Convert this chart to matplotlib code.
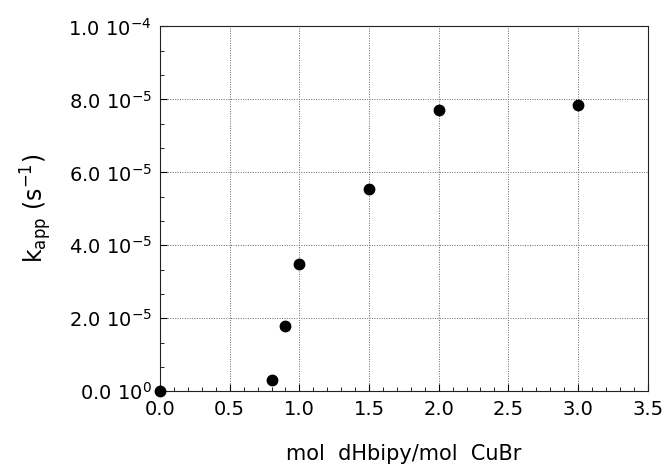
import numpy as np
import matplotlib
matplotlib.use('Agg')
import matplotlib.pyplot as plt
from matplotlib.ticker import MultipleLocator, FixedLocator

# data
ratio = [0.0, 0.8, 0.9, 1.0, 1.5, 2.0, 3.0]
kapp = [0.0, 3.1e-6, 1.78e-5, 3.49e-5, 5.55e-5, 7.72e-5, 7.85e-5]

xticks = [0.0, 0.5, 1.0, 1.5, 2.0, 2.5, 3.0, 3.5]
yticks = [0.0, 2e-5, 4e-5, 6e-5, 8e-5, 1e-4]
ytick_labels = ['0.0 10$^{0}$', '2.0 10$^{-5}$', '4.0 10$^{-5}$',
                '6.0 10$^{-5}$', '8.0 10$^{-5}$', '1.0 10$^{-4}$']

plt.rcParams['font.family'] = ['DejaVu Sans']
plt.rcParams['mathtext.fontset'] = 'dejavusans'

fig = plt.figure(figsize=(6.67, 4.73), dpi=100)
ax = fig.add_axes([0.240, 0.173, 0.731, 0.771])

ax.plot(ratio, kapp, 'o', color='black', markersize=7.5, clip_on=False, zorder=5)

ax.set_xlim(0, 3.5)
ax.set_ylim(0, 1e-4)
ax.set_xticks(xticks)
ax.set_xticklabels(['%.1f' % v for v in xticks])
ax.set_yticks(yticks)
ax.set_yticklabels(ytick_labels)
ax.xaxis.set_minor_locator(MultipleLocator(0.1))
ax.yaxis.set_minor_locator(FixedLocator(np.arange(0, 1.0001e-4, 2e-5 / 3)))

ax.tick_params(which='both', direction='in', top=False, right=False,
               labelsize=14, colors='black')
ax.tick_params(which='major', length=5, width=0.8, pad=6)
ax.tick_params(which='minor', length=3, width=0.6)

ax.grid(True, which='major', linestyle=(0, (1, 1.5)), color='#666666', linewidth=0.7)

for s in ax.spines.values():
    s.set_linestyle((0, (2, 1)))
    s.set_linewidth(0.8)
    s.set_color('#222222')

ax.set_xlabel('mol  dHbipy/mol  CuBr', fontsize=15, labelpad=18)
ax.set_ylabel('k$_{\\mathrm{app}}$ (s$^{-1}$)', fontsize=17, labelpad=10)

fig.savefig('out.png', dpi=100)
